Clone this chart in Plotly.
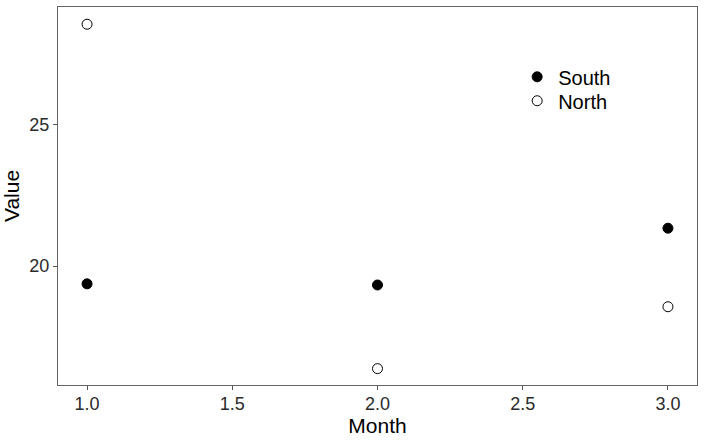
import plotly.graph_objects as go

months = [1.0, 2.0, 3.0]
south = [19.37, 19.33, 21.34]
north = [28.56, 16.37, 18.56]

fig = go.Figure()
fig.add_trace(go.Scatter(x=months, y=south, mode="markers", name="South", legend="legend",
                         marker=dict(symbol="circle", size=10, color="black",
                                     line=dict(color="black", width=1))))
fig.add_trace(go.Scatter(x=months, y=north, mode="markers", name="North", legend="legend2",
                         marker=dict(symbol="circle-open", size=10, color="black",
                                     line=dict(color="black", width=1))))

axis_common = dict(showgrid=False, zeroline=False, showline=True, mirror=True,
                   linecolor="#666666", linewidth=1, ticks="outside", ticklen=4,
                   tickcolor="#555555", automargin=False,
                   tickfont=dict(size=18, color="#2a2a2a"))
leg_common = dict(xanchor="left", yanchor="middle", font=dict(size=20),
                  bgcolor="rgba(0,0,0,0)", itemwidth=32)
fig.update_layout(
    width=705, height=442,
    margin=dict(l=58, r=8, t=7, b=57),
    paper_bgcolor="white", plot_bgcolor="white",
    font=dict(family="Liberation Sans, Arial, sans-serif", color="black"),
    xaxis=dict(range=[0.9, 3.1], tickvals=[1.0, 1.5, 2.0, 2.5, 3.0],
               ticktext=["1.0", "1.5", "2.0", "2.5", "3.0"], ticklabelstandoff=-2,
               title=dict(text="Month", font=dict(size=21), standoff=2), **axis_common),
    yaxis=dict(range=[15.79, 29.17], tickvals=[20, 25],
               title=dict(text="Value", font=dict(size=21), standoff=6), **axis_common),
    legend=dict(x=0.717, y=0.8153, **leg_common),
    legend2=dict(x=0.717, y=0.752, **leg_common),
    showlegend=True,
)
fig.write_html("out.html")
